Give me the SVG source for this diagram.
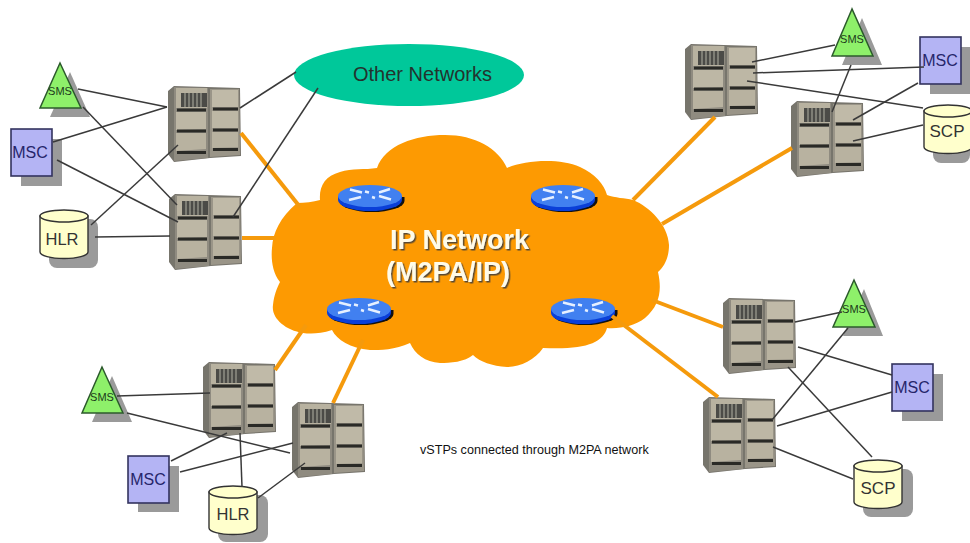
<svg xmlns="http://www.w3.org/2000/svg" xmlns:xlink="http://www.w3.org/1999/xlink" width="970" height="543" viewBox="0 0 970 543">
<style>
text{font-family:"Liberation Sans",Arial,sans-serif}
.sh{fill:#9a9a9a;filter:url(#soft)}
.tri{fill:#8ef06a;stroke:#2c5a2c;stroke-width:1.5;filter:url(#soft)}
.box{fill:#b4b4f4;stroke:#33335e;stroke-width:1.6;filter:url(#soft)}
.tl{font-size:11px;fill:#1c3a1c;text-anchor:middle}
.ml{font-size:16px;fill:#26266a;text-anchor:middle}
.dl{font-size:16.5px;fill:#333;text-anchor:middle}
.wire{stroke:#3a3a3a;stroke-width:1.5;fill:none}
.trunk{stroke:#f59a0c;stroke-width:4;fill:none}
.big{font-size:27px;font-weight:700;fill:#fffbe8;filter:url(#ts)}
</style>
<defs>
<filter id="soft" x="-10%" y="-10%" width="120%" height="120%"><feGaussianBlur stdDeviation="0.6"/></filter>
<filter id="ts" x="-5%" y="-15%" width="115%" height="140%"><feDropShadow dx="1.5" dy="1.5" stdDeviation="0.5" flood-color="#5a4a30"/></filter>
<symbol id="rack" viewBox="0 0 74 75" width="74" height="75" overflow="visible">
<g filter="url(#soft)">
<polygon points="0,5 6,0 72,2 73,70 42,72 6,76 0,68" fill="#77746c"/>
<polygon points="6,1 40,2 40,72 6,75" fill="#8f8b80"/>
<polygon points="42,3 71,3 72,69 42,71" fill="#9a9588"/>
<rect x="8" y="2" width="31" height="20" fill="#b8b2a0"/>
<rect x="13" y="7" width="26" height="14" fill="#4c4c46"/>
<path d="M17 7v14M21 7v14M25 7v14M29 7v14M33 7v14" stroke="#a0a094" stroke-width="1.200"/>
<polygon points="44,4 70,4 70,21 44,21" fill="#c0baa8"/>
<polygon points="8,26 38,26 38,43 8,44" fill="#bdb7a5"/>
<polygon points="8,47 38,47 38,63 8,65" fill="#b8b2a0"/>
<polygon points="44,25 70,25 70,42 44,42" fill="#bdb7a5"/>
<polygon points="44,46 70,46 70,61 44,62" fill="#b8b2a0"/>
<path d="M9 24H38M9 45H38M9 66.500H38M45 23H70M45 44H70M45 63.500H70" stroke="#2c2c28" stroke-width="3"/>
</g>
</symbol>
<symbol id="drum" viewBox="0 0 50 50" width="50" height="50" overflow="visible">
<g filter="url(#soft)">
<path d="M1 7V43A24 6.500 0 0 0 49 43V7Z" fill="#ffffcc" stroke="#333" stroke-width="1.400"/>
<ellipse cx="25" cy="7" rx="24" ry="6" fill="#ffffcc" stroke="#333" stroke-width="1.400"/>
</g>
</symbol>
<symbol id="router" viewBox="0 0 67 28" width="67" height="28" overflow="visible">
<path d="M1.500 12V16A32.500 11 0 0 0 66.500 16V12Z" fill="#111"/>
<path d="M0 11V15A32 11 0 0 0 64 15V11Z" fill="#0a3fd8"/>
<ellipse cx="32" cy="11" rx="32" ry="11" fill="#4180f0"/>
<path d="M12 4.500L24 7.500M52 4L41 7.500M11 15L23 12M41 11L53 14.500M27 6.500l4 1M37 13l-3-1" stroke="#e6f0ff" stroke-width="2.400" fill="none"/>
</symbol>
</defs>
<rect width="970" height="543" fill="#fff"/>

<g id="ip-cloud">
<path d="M377 168C385 145 415 135 445 135C475 135 498 148 507 168C525 160 560 158 580 167C595 174 604 184 607 195C615 198 625 198 633 200C650 207 668 225 669 245C669 258 664 267 658 272C662 290 660 305 645 318C635 326 620 329 607 328C603 343 585 350 543 348C535 360 520 367 507 367C492 366 480 362 473 355C465 362 450 363 440 363C425 362 415 354 410 343C395 350 380 350 370 350C350 348 337 340 332 330C320 334 310 334 303 333C285 330 271 318 273 305C274 295 277 288 280 282C272 272 271 258 272 248C273 232 280 218 297 203C305 203 313 202 320 200C319 186 325 176 340 172C352 168 365 170 377 168Z" fill="#fd9a02"/>
</g>
<g id="other-networks">
<ellipse cx="409" cy="75" rx="115" ry="31" fill="#00c89a" filter="url(#soft)"/>
<text x="353" y="81" font-size="20px" fill="#23332e">Other Networks</text>
</g>
<g id="router-1"><use href="#router" x="338" y="185"/></g>
<g id="router-2"><use href="#router" x="531" y="185"/></g>
<g id="router-3"><use href="#router" x="327" y="298"/></g>
<g id="router-4"><use href="#router" x="551" y="298"/></g>
<g id="ip-label">
<text class="big" x="390" y="249">IP Network</text>
<text class="big" x="386" y="281">(M2PA/IP)</text>
</g>

<g id="vstp-a"><use href="#rack" x="168" y="86"/></g>
<g id="vstp-b"><use href="#rack" x="169" y="194"/></g>
<g id="vstp-c"><use href="#rack" x="685" y="44"/></g>
<g id="vstp-d"><use href="#rack" x="791" y="101"/></g>
<g id="vstp-e"><use href="#rack" x="723" y="298"/></g>
<g id="vstp-f"><use href="#rack" x="703" y="397"/></g>
<g id="vstp-g"><use href="#rack" x="203" y="362"/></g>
<g id="vstp-h"><use href="#rack" x="292" y="402"/></g>

<g id="sms-left">
<polygon class="sh" points="70,72 50,117 90,117"/>
<polygon class="tri" points="60,63 40,108 81,108"/>
<text class="tl" x="60" y="95">SMS</text>
</g>
<g id="msc-left">
<rect class="sh" x="21" y="139" width="41" height="47"/>
<rect class="box" x="11" y="129" width="41" height="47"/>
<text class="ml" x="30" y="158">MSC</text>
</g>
<g id="hlr-left">
<rect class="sh" x="49" y="219" width="49" height="49" rx="8"/>
<use href="#drum" x="39" y="209"/>
<text class="dl" x="62" y="245">HLR</text>
</g>

<g id="sms-top">
<polygon class="sh" points="862,18 842,65 882,65"/>
<polygon class="tri" points="852,9 832,56 873,56"/>
<text class="tl" x="852" y="43">SMS</text>
</g>
<g id="msc-top">
<rect class="sh" x="930" y="47" width="40" height="47"/>
<rect class="box" x="920" y="37" width="41" height="47"/>
<text class="ml" x="940" y="66">MSC</text>
</g>
<g id="scp-top">
<rect class="sh" x="933" y="114" width="37" height="49" rx="8"/>
<use href="#drum" x="923" y="104"/>
<text class="dl" x="947" y="137" style="font-size:17px">SCP</text>
</g>

<g id="sms-right">
<polygon class="sh" points="864,289 843,336 883,336"/>
<polygon class="tri" points="854,280 833,327 875,327"/>
<text class="tl" x="854" y="313">SMS</text>
</g>
<g id="msc-right">
<rect class="sh" x="902" y="374" width="41" height="47"/>
<rect class="box" x="892" y="364" width="41" height="47"/>
<text class="ml" x="912" y="393">MSC</text>
</g>
<g id="scp-right">
<rect class="sh" x="863" y="469" width="50" height="48" rx="8"/>
<use href="#drum" x="853" y="459"/>
<text class="dl" x="878" y="494" style="font-size:17px">SCP</text>
</g>

<g id="sms-bottom">
<polygon class="sh" points="112,376 92,422 132,422"/>
<polygon class="tri" points="102,367 82,413 123,413"/>
<text class="tl" x="102" y="401">SMS</text>
</g>
<g id="msc-bottom">
<rect class="sh" x="138" y="466" width="41" height="46"/>
<rect class="box" x="128" y="456" width="41" height="47"/>
<text class="ml" x="148" y="485">MSC</text>
</g>
<g id="hlr-bottom">
<rect class="sh" x="218" y="495" width="50" height="47" rx="8"/>
<use href="#drum" x="208" y="485"/>
<text class="dl" x="233" y="520">HLR</text>
</g>

<g id="connectors">
<g class="trunk">
<path d="M241 133L300 207"/>
<path d="M242 238L276 238"/>
<path d="M715 117L633 200"/>
<path d="M792 148L662 224"/>
<path d="M723 327L652 300"/>
<path d="M718 397L612 316"/>
<path d="M275 370L306 325"/>
<path d="M333 403L363 340"/>
</g>
<g class="wire">
<path d="M78 89L167 107"/>
<path d="M53 142L167 107"/>
<path d="M91 225L178 145"/>
<path d="M83 107L177 205"/>
<path d="M57 160L178 222"/>
<path d="M95 237L170 236"/>
<path d="M240 108L296 72"/>
<path d="M233 217L318 88"/>
<path d="M752 62L835 45"/>
<path d="M753 73L924 67"/>
<path d="M747 81L923 108"/>
<path d="M851 65L832 112"/>
<path d="M918 83L853 120"/>
<path d="M923 125L853 141"/>
<path d="M795 322L842 312"/>
<path d="M798 347L892 375"/>
<path d="M788 367L872 457"/>
<path d="M772 420L848 328"/>
<path d="M777 426L892 392"/>
<path d="M773 447L853 479"/>
<path d="M117 396L210 393"/>
<path d="M127 413L290 453"/>
<path d="M171 461L227 433"/>
<path d="M180 472L293 443"/>
<path d="M240 433L242 487"/>
<path d="M258 498L305 463"/>
</g>
</g>
<text x="420" y="454" font-size="12.6px" fill="#111">vSTPs connected through M2PA network</text>
</svg>
